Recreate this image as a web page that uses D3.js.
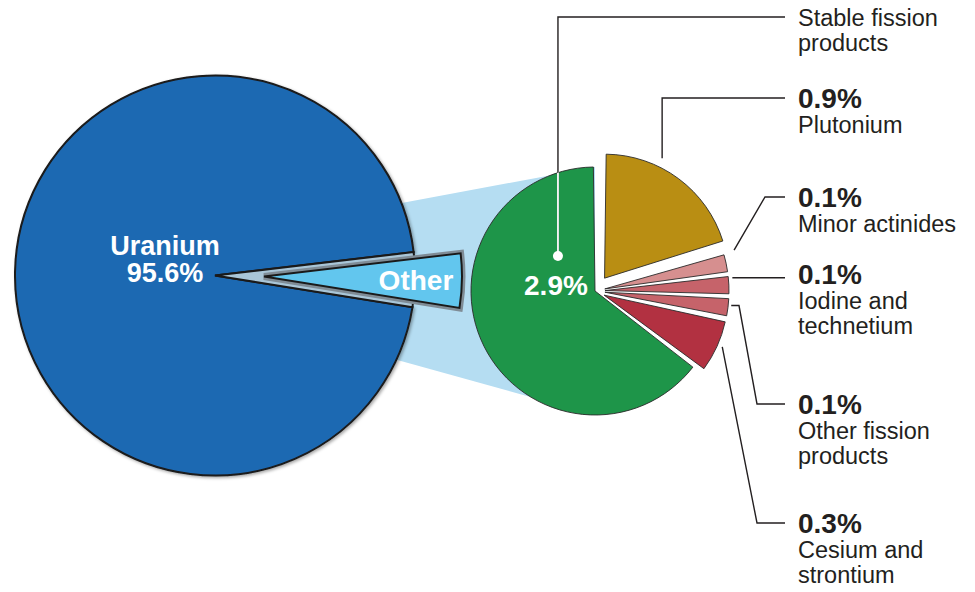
<!DOCTYPE html>
<html>
<head>
<meta charset="utf-8">
<script src="https://cdn.jsdelivr.net/npm/d3@7"></script>
<style>
html,body{margin:0;padding:0;background:#fff;}
svg{display:block;font-family:"Liberation Sans",Arial,Helvetica,sans-serif;}
</style>
</head>
<body>
<svg id="chart" width="975" height="592"></svg>
<script>
// ---- data ----
const bigCategories = ["Uranium", "Other"];
const bigValues = [95.6, 4.4];

const otherCategories = ["Plutonium", "Minor actinides", "Iodine and technetium", "Other fission products", "Cesium and strontium", "Stable fission products"];
const otherValues = [0.9, 0.1, 0.1, 0.1, 0.3, 2.9];

// ---- styles / layout ----
const bigColors = ["#1f69b2", "#62c6ee"];
const otherColors = ["#b98e13", "#d68f8f", "#c6636a", "#c6636a", "#b23141", "#1e9549"];
const connectorColor = "#b5ddf2";
const textColor = "#231f20";

const big = {cx: 215, cy: 275.5, r: 200, otherMidDeg: 91.2, explode: 49};
const small = {cx: 595, cy: 291, r: 124};
const smallExplode = [16, 10, 10, 10, 10, 0];
const leaderY = [98, 197, 274, 404, 523, 17];
const anchorSpec = [[0.35, 133], [0.0, 135], [0.16, 128], [0.4, 127], [0.47, 129], [0.8, 51]];
const lineEndX = 785, labelX = 798;

const svg = d3.select("#chart");
const defs = svg.append("defs");
const shadow = defs.append("filter").attr("id", "shadow").attr("x", "-10%").attr("y", "-10%").attr("width", "120%").attr("height", "120%");
shadow.append("feDropShadow").attr("dx", 1.5).attr("dy", 1.5).attr("stdDeviation", 1.6).attr("flood-color", "#000").attr("flood-opacity", 0.35);

const rad = d => d * Math.PI / 180;
const polar = (a, r) => [r * Math.sin(a), -r * Math.cos(a)];

// ---- big pie ----
const otherSpan = 2 * Math.PI * bigValues[1] / d3.sum(bigValues);
const bigStart = rad(big.otherMidDeg) + otherSpan / 2;
const bigPie = d3.pie().sort(null).value(d => d).startAngle(bigStart).endAngle(bigStart + 2 * Math.PI);
const bigArcs = bigPie(bigValues);
const bigArc = d3.arc().innerRadius(0).outerRadius(big.r);

// connector (behind everything)
const conn = [[300, 222], [small.cx, small.cy - small.r], [small.cx, small.cy + small.r], [300, 333]];
svg.append("path").attr("d", d3.line()(conn) + "Z").attr("fill", connectorColor);

const gBig = svg.append("g").attr("transform", `translate(${big.cx},${big.cy})`);
// uranium
gBig.append("path").attr("d", bigArc(bigArcs[0])).attr("fill", bigColors[0])
  .attr("stroke", "#1a1a1a").attr("stroke-width", 2).attr("stroke-linejoin", "miter").attr("filter", "url(#shadow)");
// notch (empty place of "Other")
gBig.append("path").attr("d", bigArc(bigArcs[1])).attr("fill", "#a9c6d8")
  .attr("stroke", "#1a1a1a").attr("stroke-width", 2);

// exploded other slice
const om = (bigArcs[1].startAngle + bigArcs[1].endAngle) / 2;
const [ox, oy] = polar(om, big.explode);
const gOther = gBig.append("g").attr("transform", `translate(${ox},${oy})`);
const otherArc = d3.arc().innerRadius(0).outerRadius(big.r - 2);
gOther.append("path").attr("d", otherArc(bigArcs[1])).attr("fill", "none")
  .attr("stroke", "#7f8c96").attr("stroke-width", 7).attr("stroke-linejoin", "miter");
gOther.append("path").attr("d", otherArc(bigArcs[1])).attr("fill", bigColors[1])
  .attr("stroke", "#1a1a1a").attr("stroke-width", 2).attr("stroke-linejoin", "miter");
const [tx, ty] = polar(om, 152);
gOther.append("text").attr("x", tx).attr("y", ty + 10).attr("text-anchor", "middle")
  .attr("fill", "#fff").attr("font-weight", "bold").attr("font-size", 28).text(bigCategories[1]);

// uranium label
gBig.append("text").attr("x", -50).attr("y", -21).attr("text-anchor", "middle")
  .attr("fill", "#fff").attr("font-weight", "bold").attr("font-size", 27).text(bigCategories[0]);
gBig.append("text").attr("x", -50).attr("y", 6).attr("text-anchor", "middle")
  .attr("fill", "#fff").attr("font-weight", "bold").attr("font-size", 27).text(bigValues[0] + "%");

// ---- small pie ----
const smallPie = d3.pie().sort(null).value(d => d).startAngle(0).endAngle(2 * Math.PI).padAngle(0.026);
const smallArcs = smallPie(otherValues);
const smallArc = d3.arc().innerRadius(0).outerRadius(small.r).padRadius(small.r);
const gSmall = svg.append("g").attr("transform", `translate(${small.cx},${small.cy})`);

const offsets = smallArcs.map((a, i) => polar((a.startAngle + a.endAngle) / 2, smallExplode[i]));
gSmall.selectAll("path.slice").data(smallArcs).join("path").attr("class", "slice")
  .attr("transform", (d, i) => `translate(${offsets[i][0]},${offsets[i][1]})`)
  .attr("d", smallArc).attr("fill", (d, i) => otherColors[i])
  .attr("stroke", "#2a2a2a").attr("stroke-width", 0.9).attr("stroke-linejoin", "round");

// clip of green slice for white leader segment
const gi = otherValues.length - 1;
defs.append("clipPath").attr("id", "greenClip").append("path")
  .attr("transform", `translate(${small.cx + offsets[gi][0]},${small.cy + offsets[gi][1]})`)
  .attr("d", smallArc(smallArcs[gi]));

// anchors
const anchors = smallArcs.map((a, i) => {
  const ang = a.startAngle + (a.endAngle - a.startAngle) * anchorSpec[i][0];
  const p = polar(ang, anchorSpec[i][1]);
  return [small.cx + offsets[i][0] + p[0], small.cy + offsets[i][1] + p[1]];
});

const leaderPts = anchors.map((a, i) => {
  const Y = leaderY[i];
  switch (i) {
    case 0: return [a, [a[0], Y], [lineEndX, Y]];
    case 1: return [a, [765, Y], [lineEndX, Y]];
    case 2: return [a, [lineEndX, a[1]]];
    case 3: return [a, [739, a[1]], [757, Y], [lineEndX, Y]];
    case 4: return [a, [757, Y], [lineEndX, Y]];
    default: return [a, [a[0], Y], [lineEndX, Y]];
  }
});
const line = d3.line();
svg.append("g").selectAll("path").data(leaderPts).join("path")
  .attr("d", line).attr("fill", "none").attr("stroke", textColor).attr("stroke-width", 1.4);
// white segment inside green
svg.append("path").attr("d", line(leaderPts[gi])).attr("fill", "none")
  .attr("stroke", "#fff").attr("stroke-width", 1.8).attr("clip-path", "url(#greenClip)");
svg.append("circle").attr("cx", anchors[gi][0]).attr("cy", anchors[gi][1]).attr("r", 5).attr("fill", "#fff");

// green label
svg.append("text").attr("x", anchors[gi][0] - 2).attr("y", anchors[gi][1] + 39).attr("text-anchor", "middle")
  .attr("fill", "#fff").attr("font-weight", "bold").attr("font-size", 28).text(otherValues[gi] + "%");

// right labels
const wrap = s => { const w = s.split(" "); const out = []; for (let k = 0; k < w.length; k += 2) out.push(w.slice(k, k + 2).join(" ")); return out; };
const gLab = svg.append("g").attr("fill", textColor);
otherCategories.forEach((c, i) => {
  let y = leaderY[i] + 9;
  if (i !== gi) {
    gLab.append("text").attr("x", labelX).attr("y", y + 1).attr("font-weight", "bold").attr("font-size", 28).text(otherValues[i] + "%");
    y += 26;
  }
  wrap(c).forEach((ln, k) => {
    gLab.append("text").attr("x", labelX).attr("y", y + k * 25).attr("font-size", 23.5).text(ln);
  });
});
</script>
</body>
</html>
